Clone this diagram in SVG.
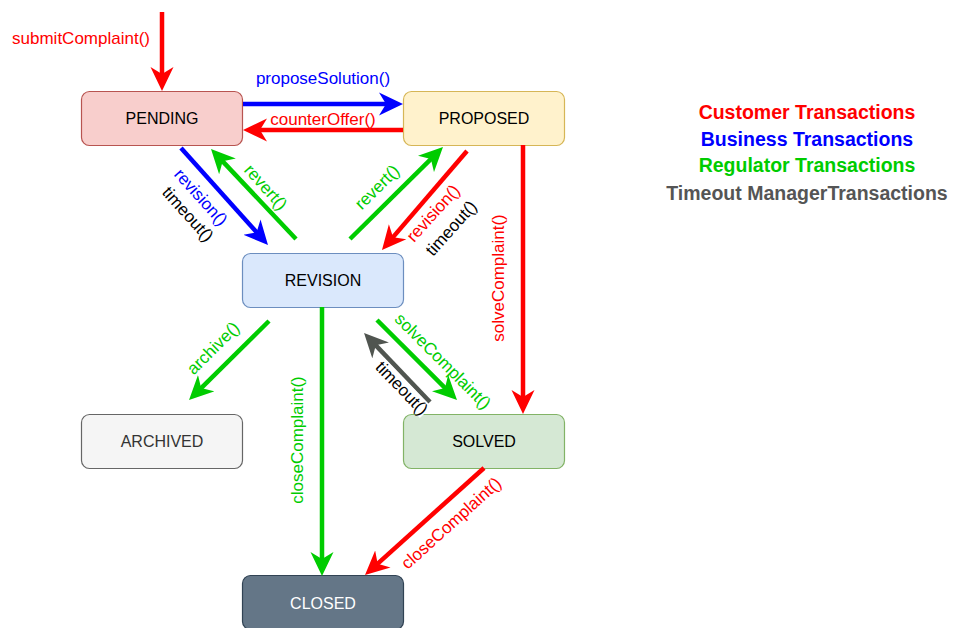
<svg xmlns="http://www.w3.org/2000/svg" width="953" height="628" viewBox="0 0 953 628">
  <style>
    .node rect { stroke-width: 1.2; }
    .node text { font-family: "Liberation Sans", Arial, Helvetica, sans-serif; font-size: 16px; text-anchor: middle; }
    .edge path { fill: none; stroke-width: 4.5; }
    .lbl { font-family: "Liberation Sans", Arial, Helvetica, sans-serif; font-size: 17px; text-anchor: middle; }
    .red { stroke: #FF0000; }
    .blue { stroke: #0000FF; }
    .green { stroke: #00CC00; }
    .gray { stroke: #505550; }
    .t-red { fill: #FF0000; }
    .t-blue { fill: #0000FF; }
    .t-green { fill: #00CC00; }
    .t-black { fill: #000000; }
    .legend text { font-family: "Liberation Sans", Arial, Helvetica, sans-serif; font-size: 19.5px; font-weight: bold; text-anchor: middle; }
  </style>
  <defs>
    <marker id="ah-red" viewBox="0 -12 25 24" markerWidth="25" markerHeight="24" refX="8" refY="0" orient="auto" markerUnits="userSpaceOnUse">
      <path d="M0,-11.5 L24,0 L0,11.5 L7,0 Z" fill="#FF0000"/>
    </marker>
    <marker id="ah-blue" viewBox="0 -12 25 24" markerWidth="25" markerHeight="24" refX="8" refY="0" orient="auto" markerUnits="userSpaceOnUse">
      <path d="M0,-11.5 L24,0 L0,11.5 L7,0 Z" fill="#0000FF"/>
    </marker>
    <marker id="ah-green" viewBox="0 -12 25 24" markerWidth="25" markerHeight="24" refX="8" refY="0" orient="auto" markerUnits="userSpaceOnUse">
      <path d="M0,-11.5 L24,0 L0,11.5 L7,0 Z" fill="#00CC00"/>
    </marker>
    <marker id="ah-gray" viewBox="0 -12 25 24" markerWidth="25" markerHeight="24" refX="8" refY="0" orient="auto" markerUnits="userSpaceOnUse">
      <path d="M0,-11.5 L24,0 L0,11.5 L7,0 Z" fill="#505550"/>
    </marker>
  </defs>

  <rect width="953" height="628" fill="#ffffff"/>

  <!-- states -->
  <g id="node-pending" class="node">
    <rect x="81.5" y="91.5" width="161" height="54" rx="8" fill="#F8CECC" stroke="#B85450"/>
    <text x="162" y="124">PENDING</text>
  </g>
  <g id="node-proposed" class="node">
    <rect x="403.5" y="91.5" width="161" height="54" rx="8" fill="#FFF2CC" stroke="#D6B656"/>
    <text x="484" y="124">PROPOSED</text>
  </g>
  <g id="node-revision" class="node">
    <rect x="242.5" y="253.5" width="161" height="54" rx="8" fill="#DAE8FC" stroke="#6C8EBF"/>
    <text x="323" y="286">REVISION</text>
  </g>
  <g id="node-archived" class="node">
    <rect x="81.5" y="414.5" width="161" height="54" rx="8" fill="#F5F5F5" stroke="#666666"/>
    <text x="162" y="447" fill="#333333">ARCHIVED</text>
  </g>
  <g id="node-solved" class="node">
    <rect x="403.5" y="414.5" width="161" height="54" rx="8" fill="#D5E8D4" stroke="#82B366"/>
    <text x="484" y="447">SOLVED</text>
  </g>
  <g id="node-closed" class="node">
    <rect x="242.5" y="575.5" width="161" height="54" rx="8" fill="#647687" stroke="#314354"/>
    <text x="323" y="609" fill="#ffffff">CLOSED</text>
  </g>

  <!-- transitions -->
  <g id="connectors">
    <g class="edge" id="e-submit">
      <path class="red" d="M162,12 L162,75" marker-end="url(#ah-red)"/>
      <text class="lbl t-red" x="81" y="44">submitComplaint()</text>
    </g>
    <g class="edge" id="e-propose">
      <path class="blue" d="M243,104 L387,104" marker-end="url(#ah-blue)"/>
      <text class="lbl t-blue" x="323" y="84">proposeSolution()</text>
    </g>
    <g class="edge" id="e-counter">
      <path class="red" d="M403,130 L259,130" marker-end="url(#ah-red)"/>
      <text class="lbl t-red" x="323" y="125">counterOffer()</text>
    </g>
    <g class="edge" id="e-pending-revision">
      <path class="blue" d="M181,148 L257.3,233.1" marker-end="url(#ah-blue)"/>
      <text class="lbl t-blue" transform="translate(201,197) rotate(48)" dy="0.35em">revision()</text>
      <text class="lbl t-black" transform="translate(188,214) rotate(48)" dy="0.35em">timeout()</text>
    </g>
    <g class="edge" id="e-revert-pending">
      <path class="green" d="M296,239 L222,160.6" marker-end="url(#ah-green)"/>
      <text class="lbl t-green" transform="translate(266,187) rotate(48)" dy="0.35em">revert()</text>
    </g>
    <g class="edge" id="e-revert-proposed">
      <path class="green" d="M350,239 L431.6,158.3" marker-end="url(#ah-green)"/>
      <text class="lbl t-green" transform="translate(377,187) rotate(-45)" dy="0.35em">revert()</text>
    </g>
    <g class="edge" id="e-proposed-revision">
      <path class="red" d="M467,151 L392.4,237.9" marker-end="url(#ah-red)"/>
      <text class="lbl t-red" transform="translate(433,213) rotate(-48)" dy="0.35em">revision()</text>
      <text class="lbl t-black" transform="translate(451,228) rotate(-48)" dy="0.35em">timeout()</text>
    </g>
    <g class="edge" id="e-proposed-solved">
      <path class="red" d="M523,145 L523,398" marker-end="url(#ah-red)"/>
      <text class="lbl t-red" transform="translate(498,278) rotate(-90)" dy="0.35em">solveComplaint()</text>
    </g>
    <g class="edge" id="e-archive">
      <path class="green" d="M269,321 L200.4,388.8" marker-end="url(#ah-green)"/>
      <text class="lbl t-green" transform="translate(213,348) rotate(-45)" dy="0.35em">archive()</text>
    </g>
    <g class="edge" id="e-revision-closed">
      <path class="green" d="M322,307 L322,560" marker-end="url(#ah-green)"/>
      <text class="lbl t-green" transform="translate(297,440) rotate(-90)" dy="0.35em">closeComplaint()</text>
    </g>
    <g class="edge" id="e-revision-solved">
      <path class="green" d="M377,320 L445.7,388.7" marker-end="url(#ah-green)"/>
      <text class="lbl t-green" transform="translate(443,361) rotate(45)" dy="0.35em">solveComplaint()</text>
    </g>
    <g class="edge" id="e-solved-revision">
      <path class="gray" d="M430,402 L375.1,344.6" marker-end="url(#ah-gray)"/>
      <g transform="translate(402,388) rotate(46)">
        <rect x="-34" y="-8" width="68" height="16" fill="#ffffff"/>
        <text class="lbl t-black" dy="0.35em">timeout()</text>
      </g>
    </g>
    <g class="edge" id="e-solved-closed">
      <path class="red" d="M484,468 L376.9,564.3" marker-end="url(#ah-red)"/>
      <text class="lbl t-red" transform="translate(451,523) rotate(-42)" dy="0.35em">closeComplaint()</text>
    </g>
  </g>

  <!-- legend -->
  <g id="legend" class="legend">
    <text x="807" y="119" fill="#FF0000">Customer Transactions</text>
    <text x="807" y="146" fill="#0000FF">Business Transactions</text>
    <text x="807" y="172" fill="#00CC00">Regulator Transactions</text>
    <text x="807" y="200" fill="#555555">Timeout ManagerTransactions</text>
  </g>
</svg>
